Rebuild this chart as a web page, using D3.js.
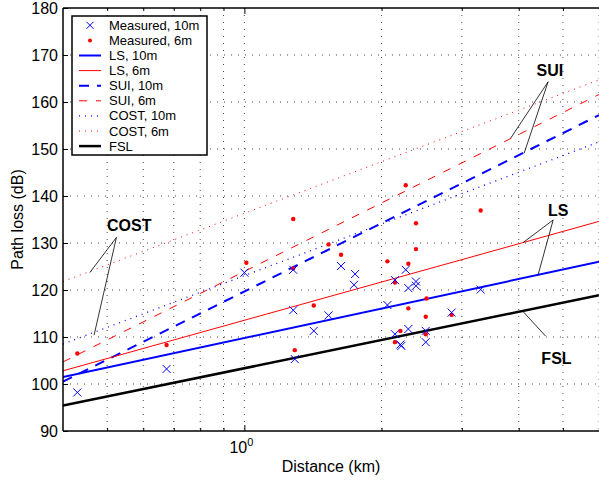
<!DOCTYPE html>
<html>
<head>
<meta charset="utf-8">
<script src="https://cdn.jsdelivr.net/npm/d3@7"></script>
<style>
body { margin: 0; background: #fff; }
text { font-family: "Liberation Sans", Arial, Helvetica, sans-serif; }
</style>
</head>
<body>
<script>
// distances in km, path loss in dB
var xTicks = [0.5, 0.6, 0.7, 0.8, 0.9, 1, 2, 3, 4, 5, 6],
	yTicks = [90, 100, 110, 120, 130, 140, 150, 160, 170, 180];

var measured10 = [
	[0.43, 98.2], [0.675, 103.2], [1.0, 123.7], [1.28, 124.3], [1.28, 115.7], [1.29, 105.3],
	[1.63, 125.1], [1.75, 123.4], [1.74, 121.1], [1.53, 114.6], [1.42, 111.3],
	[2.26, 124.3], [2.14, 122.1], [2.38, 121.8], [2.38, 120.9], [2.29, 120.4], [3.30, 120.1],
	[2.06, 116.8], [2.85, 115.2], [2.29, 111.7], [2.14, 110.6], [2.50, 111.3],
	[2.20, 108.4], [2.21, 108.1], [2.50, 108.9]
];

var measured6 = [
	[0.43, 106.5], [0.675, 108.3], [1.01, 125.8], [1.28, 135.1], [1.28, 124.6], [1.53, 129.7],
	[1.63, 127.5], [1.42, 116.7], [1.29, 107.2], [2.26, 142.3], [3.30, 136.9], [2.38, 134.2],
	[2.38, 128.7], [2.06, 126.1], [2.29, 125.6], [2.14, 121.6], [2.51, 118.2], [2.29, 116.1],
	[2.50, 114.3], [2.85, 114.7], [2.20, 111.3], [2.50, 110.6], [2.14, 108.9]
];

// model lines, value at 0.4 km and at 6 km
var ls10   = [[0.4, 101.5], [6, 126.0]],
	ls6    = [[0.4, 102.8], [6, 134.6]],
	sui10  = [[0.4, 100.5], [6, 157.2]],
	sui6   = [[0.4, 104.7], [6, 161.6]],
	cost10 = [[0.4, 108.5], [6, 151.5]],
	cost6  = [[0.4, 121.8], [6, 164.7]],
	fsl    = [[0.4, 95.4],  [6, 118.9]];

var legendNames = ["Measured, 10m", "Measured, 6m", "LS, 10m", "LS, 6m", "SUI, 10m", "SUI, 6m", "COST, 10m", "COST, 6m", "FSL"];

var notes = [
	{ label: "COST", at: [0.559, 133.8], from: [0.524, 131.2], to: [[0.458, 123.7], [0.468, 110.4]] },
	{ label: "SUI",  at: [4.68, 166.8],  from: [4.64, 164.3],  to: [[3.84, 152.3], [4.11, 149.1]] },
	{ label: "LS",   at: [4.88, 137.0],  from: [4.76, 134.9],  to: [[4.09, 130.1], [4.41, 123.2]] },
	{ label: "FSL",  at: [4.84, 105.5],  from: [4.58, 110.2],  to: [[4.09, 115.4]] }
];

// Settings
var margin = { top: 8, left: 63 },
	width  = 536,
	height = 423;

var svg = d3.select("body").append("svg")
	.attr("width", 599)
	.attr("height", 481);

var xScale = d3.scaleLog().domain([0.4, 6]).range([0, width]),
	yScale = d3.scaleLinear().domain([90, 180]).range([height, 0]);

var g = svg.append("g")
	.attr("transform", "translate(" + margin.left + "," + margin.top + ")");

svg.append("clipPath").attr("id", "plotclip")
	.append("rect").attr("width", width).attr("height", height);

// grid
g.selectAll("line.vgrid").data(xTicks).enter().append("line")
	.attr("x1", function(d){ return xScale(d); })
	.attr("x2", function(d){ return xScale(d); })
	.attr("y1", 0).attr("y2", height)
	.attr("stroke", "#333").attr("stroke-width", 0.9)
	.attr("stroke-dasharray", "1,6");

g.selectAll("line.hgrid").data(yTicks.slice(1, -1)).enter().append("line")
	.attr("y1", function(d){ return yScale(d); })
	.attr("y2", function(d){ return yScale(d); })
	.attr("x1", 0).attr("x2", width)
	.attr("stroke", "#333").attr("stroke-width", 0.9)
	.attr("stroke-dasharray", "1,6");

// model lines
var line = d3.line()
	.x(function(d){ return xScale(d[0]); })
	.y(function(d){ return yScale(d[1]); });

var models = [
	{ pts: cost6,  color: "#ff0000", w: 1,   dash: "1,5" },
	{ pts: cost10, color: "#0000ff", w: 1.3, dash: "1,5" },
	{ pts: sui6,   color: "#ff0000", w: 1,   dash: "8,9" },
	{ pts: sui10,  color: "#0000ff", w: 2,   dash: "10,8" },
	{ pts: ls6,    color: "#ff0000", w: 1,   dash: null },
	{ pts: ls10,   color: "#0000ff", w: 2,   dash: null },
	{ pts: fsl,    color: "#000000", w: 2.5, dash: null }
];

var lines = g.append("g").attr("clip-path", "url(#plotclip)");

lines.selectAll("path").data(models).enter().append("path")
	.attr("d", function(d){ return line(d.pts); })
	.attr("fill", "none")
	.attr("stroke", function(d){ return d.color; })
	.attr("stroke-width", function(d){ return d.w; })
	.attr("stroke-dasharray", function(d){ return d.dash; });

// measured points
lines.selectAll("circle").data(measured6).enter().append("circle")
	.attr("cx", function(d){ return xScale(d[0]); })
	.attr("cy", function(d){ return yScale(d[1]); })
	.attr("r", 2.2)
	.attr("fill", "#ff0000");

lines.selectAll("path.cross").data(measured10).enter().append("path")
	.attr("class", "cross")
	.attr("transform", function(d){ return "translate(" + xScale(d[0]) + "," + yScale(d[1]) + ")"; })
	.attr("d", "M-4,-4L4,4M-4,4L4,-4")
	.attr("stroke", "#0000ff")
	.attr("stroke-width", 1);

// axes (ticks inside, matlab style)
var yAxis = d3.axisLeft(yScale).tickValues(yTicks).tickSize(-5).tickPadding(5);

g.append("g").attr("class", "yaxis").call(yAxis);

g.append("g").attr("class", "xaxis bottom")
	.attr("transform", "translate(0," + height + ")")
	.call(d3.axisBottom(xScale).tickValues(xTicks).tickSize(-3).tickFormat(""));

g.append("g").attr("class", "xaxis top")
	.call(d3.axisTop(xScale).tickValues(xTicks).tickSize(-3).tickFormat(""));

d3.selectAll("g.bottom g.tick line")
	.attr("y2", function(d){ return d === 1 ? -6 : -3; });
d3.selectAll("g.top g.tick line")
	.attr("y2", function(d){ return d === 1 ? 6 : 3; });

d3.selectAll(".domain").remove();
d3.selectAll("g.tick line").attr("stroke", "#000");
d3.selectAll("g.yaxis g.tick text")
	.attr("font-size", 16)
	.attr("fill", "#000");

// frame
g.append("line").attr("x1", 0).attr("x2", 0).attr("y1", 0).attr("y2", height)
	.attr("stroke", "#000").attr("stroke-width", 1.5);
g.append("line").attr("x1", 0).attr("x2", width).attr("y1", height).attr("y2", height)
	.attr("stroke", "#000").attr("stroke-width", 1.5);
g.append("line").attr("x1", 0).attr("x2", width).attr("y1", 0).attr("y2", 0)
	.attr("stroke", "#000").attr("stroke-width", 1.5);

// 10^0 label
var lab = g.append("text")
	.attr("x", xScale(1) - 3)
	.attr("y", height + 22)
	.attr("text-anchor", "middle")
	.attr("font-size", 16);
lab.append("tspan").text("10");
lab.append("tspan").attr("dy", -7).attr("font-size", 11).text("0");

// axis titles
svg.append("text")
	.attr("x", margin.left + width / 2)
	.attr("y", 472)
	.attr("text-anchor", "middle")
	.attr("font-size", 16)
	.text("Distance (km)");

svg.append("text")
	.attr("transform", "translate(23," + (margin.top + height / 2) + ") rotate(-90)")
	.attr("text-anchor", "middle")
	.attr("font-size", 16)
	.text("Path loss (dB)");

// annotations
notes.forEach(function(n){
	n.to.forEach(function(t){
		g.append("line")
			.attr("x1", xScale(n.from[0])).attr("y1", yScale(n.from[1]))
			.attr("x2", xScale(t[0])).attr("y2", yScale(t[1]))
			.attr("stroke", "#000").attr("stroke-width", 0.8);
	});
	g.append("text")
		.attr("x", xScale(n.at[0]))
		.attr("y", yScale(n.at[1]) + 6)
		.attr("text-anchor", "middle")
		.attr("font-size", 16)
		.attr("font-weight", "bold")
		.text(n.label);
});

// legend
var leg = svg.append("g").attr("transform", "translate(72,16)");
var rowH = 15.1;

leg.append("rect")
	.attr("width", 135).attr("height", 139)
	.attr("fill", "#fff").attr("stroke", "#000").attr("stroke-width", 1.5);

var rows = leg.selectAll("g.row").data(legendNames).enter().append("g")
	.attr("class", "row")
	.attr("transform", function(d, i){ return "translate(0," + (9.3 + i * rowH) + ")"; });

rows.append("text")
	.attr("x", 37)
	.attr("y", 4.5)
	.attr("font-size", 13)
	.text(function(d){ return d; });

var legModels = [null, null, models[5], models[4], models[3], models[2], models[1], models[0], models[6]];

rows.filter(function(d, i){ return legModels[i]; }).append("line")
	.attr("x1", 7).attr("x2", 29)
	.attr("stroke", function(d){ return legModels[legendNames.indexOf(d)].color; })
	.attr("stroke-width", function(d){ return legModels[legendNames.indexOf(d)].w; })
	.attr("stroke-dasharray", function(d){ return legModels[legendNames.indexOf(d)].dash; });

leg.select("g.row").append("path")
	.attr("transform", "translate(18,0)")
	.attr("d", "M-3.5,-3.5L3.5,3.5M-3.5,3.5L3.5,-3.5")
	.attr("stroke", "#0000ff").attr("stroke-width", 1);

d3.select(rows.nodes()[1]).append("circle")
	.attr("cx", 18).attr("r", 2).attr("fill", "#ff0000");
</script>
</body>
</html>
